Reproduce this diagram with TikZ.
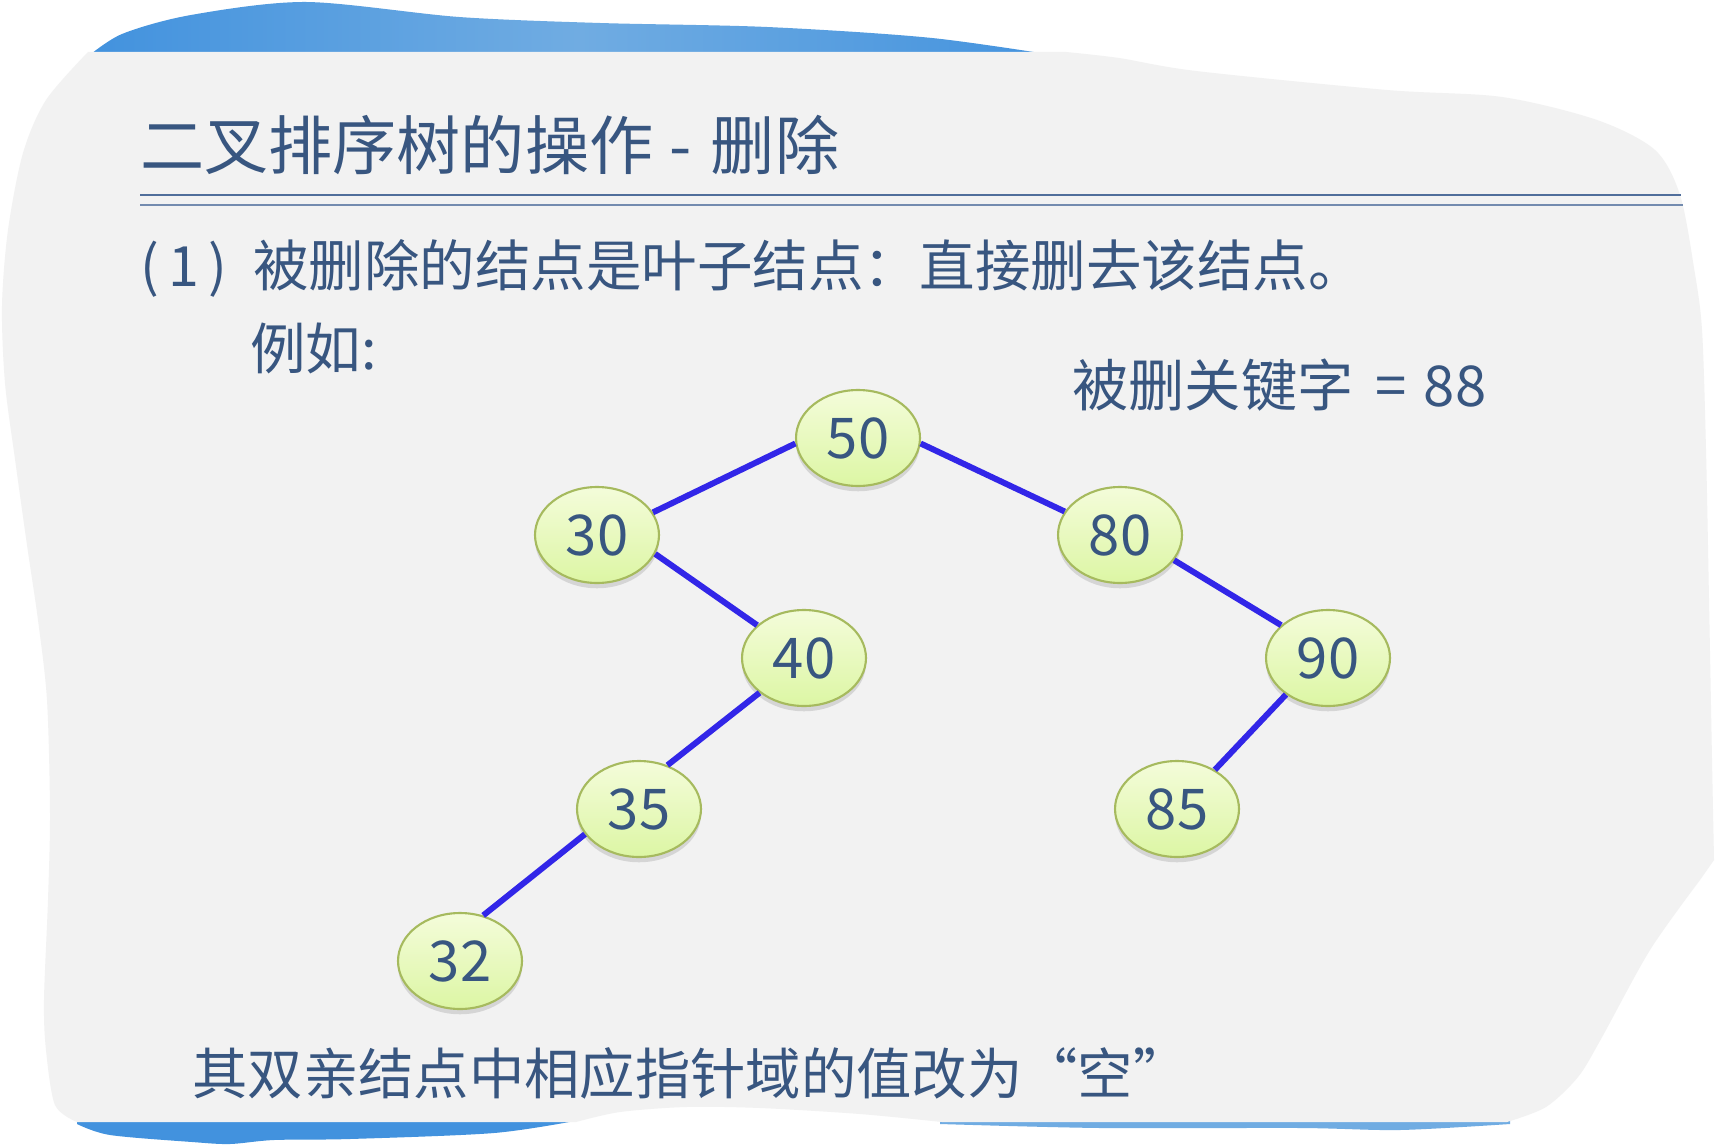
\documentclass[tikz,border=0pt]{standalone}
\usepackage{fontspec}
\setmainfont{Noto Sans CJK SC}
\usetikzlibrary{shapes.geometric,shadows}
\definecolor{paper}{RGB}{242,242,242}
\definecolor{ink}{RGB}{56,86,128}
\definecolor{bandA}{RGB}{66,146,222}
\definecolor{bandB}{RGB}{112,172,226}
\definecolor{rule}{RGB}{80,110,155}
\definecolor{edgeblue}{RGB}{50,38,232}
\definecolor{nodetop}{RGB}{244,252,218}
\definecolor{nodebot}{RGB}{220,246,164}
\definecolor{nodeline}{RGB}{166,186,94}

\begin{document}
\begin{tikzpicture}[x=0.02cm,y=-0.02cm,
		key/.style={ellipse,draw=nodeline,line width=1.2pt,top color=nodetop,bottom color=nodebot,
			minimum width=2.48cm,minimum height=1.92cm,inner sep=0pt,text=ink,
			font=\fontsize{32}{32}\selectfont,
			drop shadow={shadow xshift=0pt,shadow yshift=-3pt,opacity=0.25}},
		link/.style={draw=edgeblue,line width=3.4pt},
		words/.style={text=ink,anchor=west,inner sep=0pt}]
		\useasboundingbox (0,0) rectangle (1719,1145);
		\fill[white] (0,0) rectangle (1719,1145);

		\shade[left color=bandA,right color=bandA,middle color=bandB]
			plot[smooth] coordinates {(86,58) (122,34) (191,15) (306,2) (459,17) (600,23) (767,27) (932,38) (1072,58)} -- cycle;
		\fill[bandA] (77,1116) -- (580,1116)
			-- plot[smooth] coordinates {(580,1120) (494,1133) (350,1139) (274,1140) (230,1144) (192,1142) (110,1135) (77,1124)} -- cycle;
		\fill[bandB] (940,1116) -- (1510,1116)
			-- plot[smooth] coordinates {(1510,1124) (1400,1130) (1300,1128) (1100,1128) (940,1124)} -- cycle;

		\fill[paper] (88,52) -- (1066,52)
			-- plot[smooth] coordinates {(1066,52) (1119,58) (1196,71) (1387,90) (1502,97) (1597,120) (1655,150) (1680,195) (1694,268) (1702,330) (1706,450) (1709,600) (1712,760) (1714,860)}
			-- plot[smooth] coordinates {(1700,880) (1650,950) (1601,1039) (1578,1077) (1546,1107) (1507,1122)}
			-- (942,1122)
			-- plot[smooth] coordinates {(942,1122) (860,1114) (760,1108) (686,1107) (620,1112) (576,1122)}
			-- (77,1122)
			-- plot[smooth] coordinates {(77,1122) (55,1105) (46,1050) (44,1000) (48,900) (50,813) (47,700) (38,620) (27,545) (15,459) (5,383) (2,306) (8,230) (23,153) (46,100) (88,52)}
			-- cycle;

		\node[words,font=\fontsize{36.5}{36.5}\selectfont] (title) at (140,145) {二叉排序树的操作\hspace{0.25em}-\hspace{0.3em}删除};
		\draw[rule,line width=1.7pt] (140,195) -- (1681,195);
		\draw[rule!80,line width=1pt] (140,205) -- (1683,205);

		\node[words,font=\fontsize{31.6}{31.6}\selectfont] (case) at (140,268) {\makebox[2.26cm][l]{(\,1\,)}被删除的结点是叶子结点：直接删去该结点。};
		\node[words,font=\fontsize{31.6}{31.6}\selectfont] (eg) at (250,348) {例如:};
		\node[words,font=\fontsize{32}{32}\selectfont] (target) at (1072,385) {被删关键字\hspace{0.4em}=\hspace{0.3em}88};

		\node[key] (n50) at (858,438) {50};
		\node[key] (n30) at (597,535) {30};
		\node[key] (n80) at (1120,535) {80};
		\node[key] (n40) at (804,658) {40};
		\node[key] (n90) at (1328,658) {90};
		\node[key] (n35) at (639,809) {35};
		\node[key] (n85) at (1177,809) {85};
		\node[key] (n32) at (460,961) {32};

		\draw[link] (n50.185) -- (n30.22);
		\draw[link] (n50.-5) -- (n80.157);
		\draw[link] (n30.-18) -- (n40.145);
		\draw[link] (n40.218) -- (n35.57);
		\draw[link] (n35.205) -- (n32.63);
		\draw[link] (n80.-25) -- (n90.145);
		\draw[link] (n90.221) -- (n85.46);

		\node[words,font=\fontsize{31.5}{31.5}\selectfont] (note) at (192,1073) {其双亲结点中相应指针域的值改为“空”};
	\end{tikzpicture}
\end{document}
